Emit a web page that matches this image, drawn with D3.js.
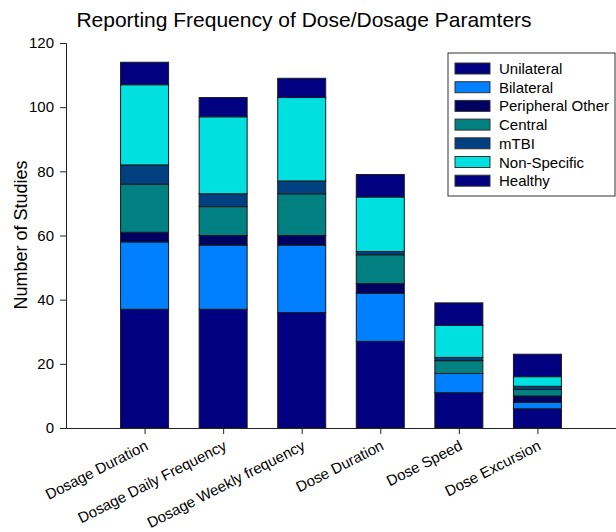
<!DOCTYPE html>
<html><head><meta charset="utf-8">
<script src="https://cdn.jsdelivr.net/npm/d3@7"></script>
<style>body{margin:0;background:#fff;} svg{display:block;font-family:Arial,"Liberation Sans",sans-serif;}</style>
</head><body>
<svg id="c" width="616" height="532"></svg>
<script>
const categories = ["Dosage Duration","Dosage Daily Frequency","Dosage Weekly frequency","Dose Duration","Dose Speed","Dose Excursion"];
const seriesNames = ["Unilateral","Bilateral","Peripheral Other","Central","mTBI","Non-Specific","Healthy"];
const unilateral = [37,37,36,27,11,6];
const bilateral = [21,20,21,15,6,2];
const peripheralOther = [3,3,3,3,0,2];
const central = [15,9,13,9,4,2];
const mTBI = [6,4,4,1,1,1];
const nonSpecific = [25,24,26,17,10,3];
const healthy = [7,6,6,7,7,7];
const yTicks = [0,20,40,60,80,100,120];
const colors = ["#000080","#0080FF","#000060","#008080","#004080","#00E0E0","#000080"];

const seriesVals = [unilateral,bilateral,peripheralOther,central,mTBI,nonSpecific,healthy];
const rows = categories.map((c,i)=>{const r={cat:c,idx:i+1}; seriesNames.forEach((s,j)=>r[s]=seriesVals[j][i]); return r;});
const stackData = d3.stack().keys(seriesNames)(rows);

const svg = d3.select("#c");
const mLeft=66, mRight=616, mTop=43, mBottom=428;
const x = d3.scaleLinear().domain([0,7]).range([mLeft,mRight]);
const y = d3.scaleLinear().domain([0,120]).range([mBottom,mTop]);
const bw = 48;

svg.append("text").attr("x",304).attr("y",27).attr("text-anchor","middle")
  .attr("font-size",21).attr("fill","#000").text("Reporting Frequency of Dose/Dosage Paramters");

svg.append("g").selectAll("g").data(stackData).join("g")
  .attr("fill",(d,i)=>colors[i])
  .selectAll("rect").data(d=>d).join("rect")
  .attr("x",d=>x(d.data.idx)-bw/2).attr("width",bw)
  .attr("y",d=>y(d[1])).attr("height",d=>y(d[0])-y(d[1]))
  .attr("stroke","#1a1a1a").attr("stroke-width",1);

const ya = svg.append("g").attr("transform",`translate(${mLeft},0)`)
  .call(d3.axisLeft(y).tickValues(yTicks).tickSize(6).tickPadding(6));
ya.selectAll("text").attr("font-size",15).attr("fill","#000").attr("font-family","Arial, Liberation Sans, sans-serif");
ya.selectAll("line,path").attr("stroke","#222");

const xa = svg.append("g").attr("transform",`translate(0,${mBottom})`)
  .call(d3.axisBottom(x).tickValues(d3.range(1,7)).tickSize(6).tickSizeOuter(0).tickFormat(d=>categories[d-1]));
xa.selectAll("line,path").attr("stroke","#222");
xa.selectAll("text").attr("font-size",15).attr("fill","#000").attr("font-family","Arial, Liberation Sans, sans-serif")
  .attr("text-anchor","end").attr("dy",0).attr("y",0)
  .attr("transform","translate(4,21) rotate(-27)");

svg.append("text").attr("transform","translate(27,235) rotate(-90)").attr("text-anchor","middle")
  .attr("font-size",18).attr("fill","#000").text("Number of Studies");

const lg = svg.append("g");
lg.append("rect").attr("x",448).attr("y",53).attr("width",167).attr("height",143)
  .attr("fill","#fff").attr("stroke","#333").attr("stroke-width",1);
seriesNames.forEach((s,i)=>{
  const yy = 63 + i*18.7;
  lg.append("rect").attr("x",455).attr("y",yy).attr("width",35).attr("height",11)
    .attr("fill",colors[i]).attr("stroke","#333").attr("stroke-width",1);
  lg.append("text").attr("x",499).attr("y",yy+11).attr("font-size",15).attr("fill","#000").text(s);
});
</script>
</body></html>
